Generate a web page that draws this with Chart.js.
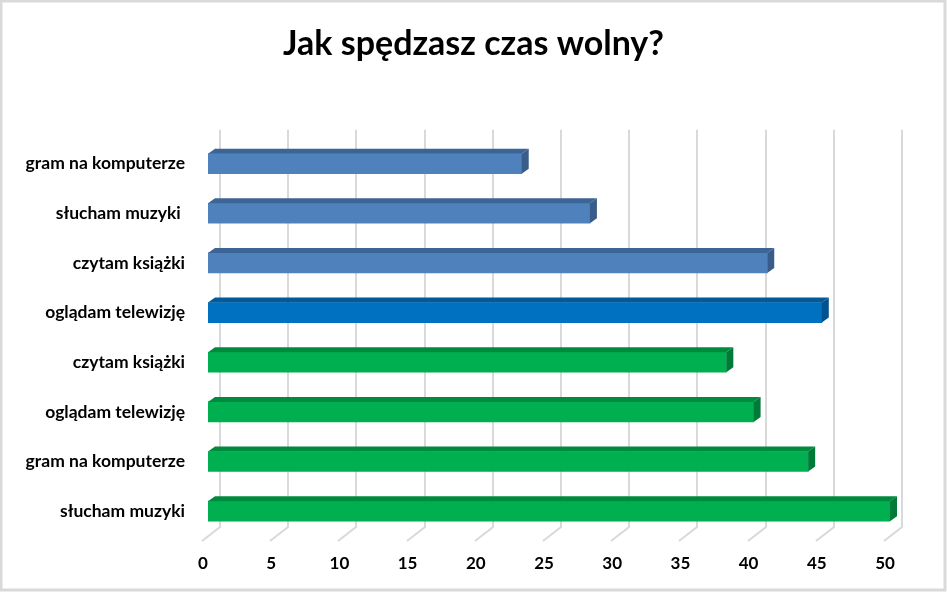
<!DOCTYPE html>
<html>
<head>
<meta charset="utf-8">
<script src="https://cdn.jsdelivr.net/npm/chart.js@4.4.0/dist/chart.umd.min.js"></script>
<style>
  html, body { margin: 0; padding: 0; background: #fff; }
  #wrap { width: 947px; height: 593px; }
</style>
</head>
<body>
<div id="wrap"><canvas id="wykres" width="947" height="593"></canvas></div>
<script>
// Dane
const kategorie = ["gram na komputerze", "słucham muzyki ", "czytam książki", "oglądam telewizję",
  "czytam książki", "oglądam telewizję", "gram na komputerze", "słucham muzyki"];
const wartosci = [23, 28, 41, 45, 38, 40, 44, 50];
const skalaMin = 0;
const skalaMax = 50;
const skalaKrok = 5;

// Kolory (przód, góra, bok)
const niebieski = ["#4f81bd", "#3c6596", "#385d8a"];
const niebieskiMocny = ["#0070c0", "#005a9c", "#00538f"];
const zielony = ["#00b050", "#008a3e", "#007a37"];
const paleta = [niebieski, niebieski, niebieski, niebieskiMocny, zielony, zielony, zielony, zielony];

const GLEB_X = 7, GLEB_Y = 5;     // efekt 3D słupków
const TYL_X = 12;                  // przesunięcie tylnej ściany

// Efekt 3D: tło, siatka na tylnej ścianie, górne i boczne ścianki słupków
const efekt3d = {
  id: "efekt3d",
  beforeDraw(chart) {
    const c = chart.ctx;
    c.save();
    c.fillStyle = "#fff";
    c.fillRect(0, 0, chart.width, chart.height);
    c.strokeStyle = "#d9d9d9";
    c.lineWidth = 3;
    c.strokeRect(1, 1, chart.width - 3, chart.height - 4);
    c.restore();
  },
  beforeDatasetsDraw(chart) {
    const c = chart.ctx;
    const sx = chart.scales.x;
    const area = chart.chartArea;
    c.save();
    c.strokeStyle = "#d9d9d9";
    c.lineWidth = 2;
    for (let v = skalaMin; v <= skalaMax; v += skalaKrok) {
      const bx = Math.round(sx.getPixelForValue(v)) + TYL_X;
      c.beginPath();
      c.moveTo(bx, area.top - 9);
      c.lineTo(bx, area.bottom - 9);
      c.lineTo(bx - 18, area.bottom + 5);
      c.stroke();
    }
    c.restore();
  },
  afterDatasetsDraw(chart) {
    const c = chart.ctx;
    const meta = chart.getDatasetMeta(0);
    c.save();
    meta.data.forEach((el, i) => {
      const p = el.getProps(["x", "y", "base", "height"], true);
      const gora = p.y - p.height / 2;
      const dol = p.y + p.height / 2;
      const kol = paleta[i];
      // góra
      c.fillStyle = kol[1];
      c.beginPath();
      c.moveTo(p.base, gora);
      c.lineTo(p.base + GLEB_X, gora - GLEB_Y);
      c.lineTo(p.x + GLEB_X, gora - GLEB_Y);
      c.lineTo(p.x, gora);
      c.closePath();
      c.fill();
      // bok
      c.fillStyle = kol[2];
      c.beginPath();
      c.moveTo(p.x, gora);
      c.lineTo(p.x + GLEB_X, gora - GLEB_Y);
      c.lineTo(p.x + GLEB_X, dol - GLEB_Y);
      c.lineTo(p.x, dol);
      c.closePath();
      c.fill();
    });
    c.restore();
  }
};

const ctx = document.getElementById("wykres").getContext("2d");
new Chart(ctx, {
  type: "bar",
  data: {
    labels: kategorie,
    datasets: [{
      data: wartosci,
      backgroundColor: paleta.map(k => k[0]),
      barThickness: 20,
      borderWidth: 0
    }]
  },
  options: {
    indexAxis: "y",
    responsive: false,
    animation: false,
    layout: { padding: { left: 0, right: 0, top: 4, bottom: 0 } },
    plugins: {
      legend: { display: false },
      tooltip: { enabled: false },
      title: {
        display: true,
        text: "Jak spędzasz czas wolny?",
        color: "#000",
        font: { family: "Lato", size: 34, weight: "bold", lineHeight: 1.2 },
        padding: { top: 20, bottom: 74 }
      }
    },
    scales: {
      x: {
        min: skalaMin,
        max: skalaMax,
        grid: { display: false, drawTicks: false },
        border: { display: false },
        ticks: {
          stepSize: skalaKrok,
          color: "#000",
          padding: 17,
          labelOffset: -5,
          font: { family: "Lato", size: 17, weight: "bold" }
        },
        afterFit(scale) { scale.height = 57; }
      },
      y: {
        grid: { display: false, drawTicks: false },
        border: { display: false },
        ticks: {
          color: "#000",
          padding: 23,
          font: { family: "Lato", size: 17.5, weight: "bold" }
        },
        afterFit(scale) { scale.width = 208; }
      },
      // pusty margines po prawej stronie wykresu
      prawa: {
        axis: "y",
        type: "category",
        position: "right",
        grid: { display: false, drawTicks: false },
        border: { display: false },
        ticks: { display: false },
        afterFit(scale) { scale.width = 57; }
      }
    }
  },
  plugins: [efekt3d]
});
</script>
</body>
</html>
